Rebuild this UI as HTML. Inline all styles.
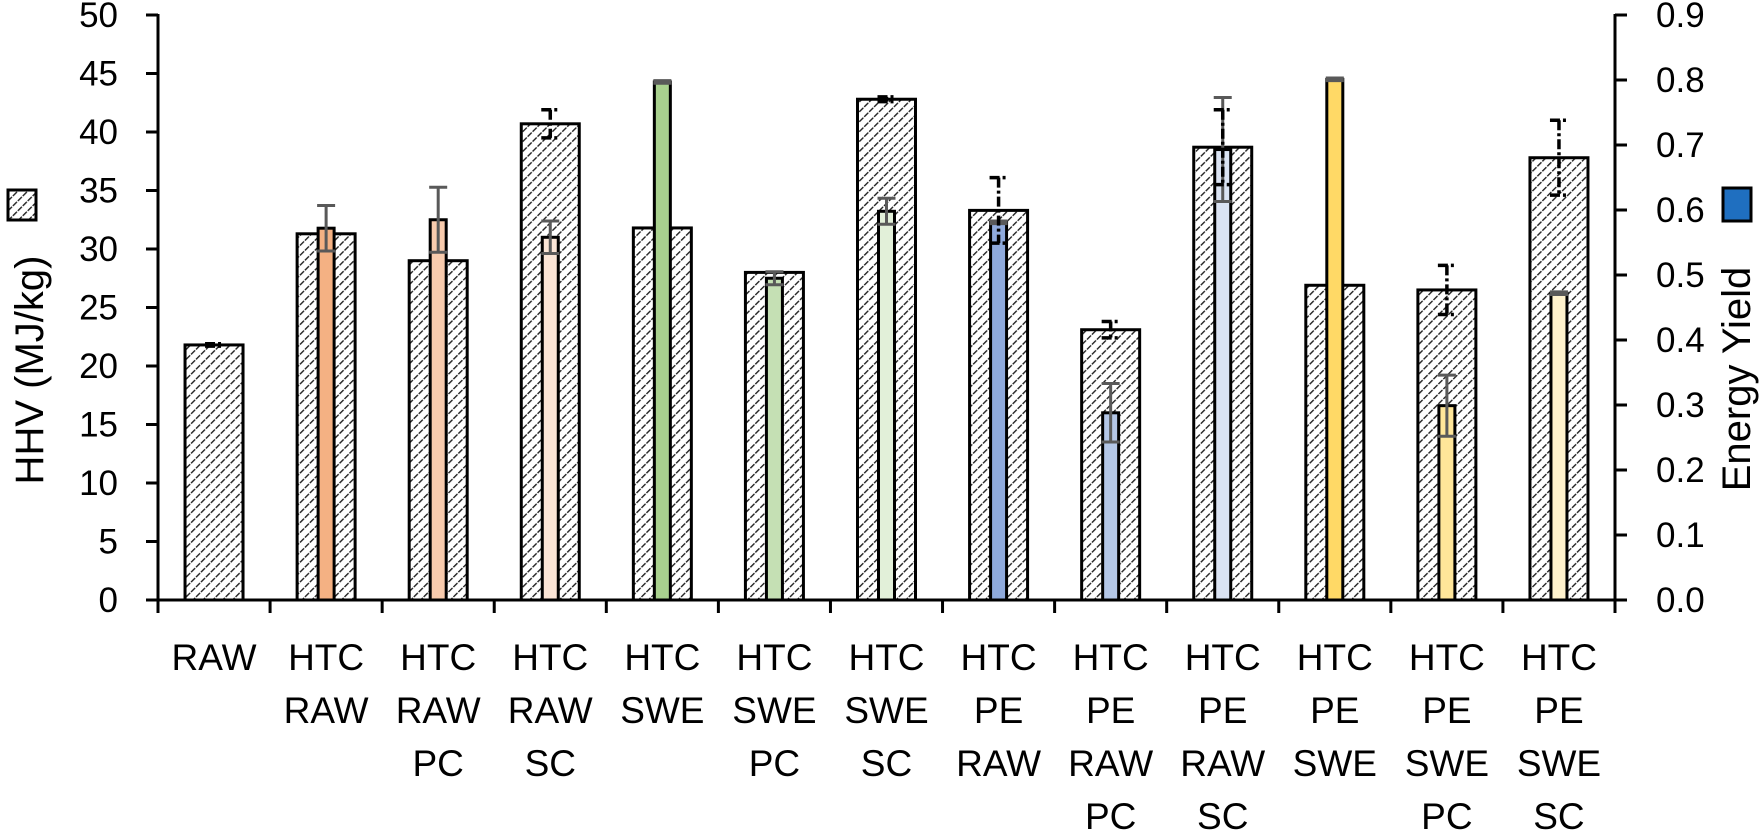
<!DOCTYPE html>
<html><head><meta charset="utf-8"><style>
body{margin:0;background:#fff}
svg{display:block;font-family:"Liberation Sans",sans-serif}
</style></head><body>
<svg id="chart" width="1761" height="831" viewBox="0 0 1761 831" xmlns="http://www.w3.org/2000/svg">
<defs>
<pattern id="hatch" patternUnits="userSpaceOnUse" width="7" height="7" patternTransform="rotate(45)">
<rect width="7" height="7" fill="#fff"/>
<line x1="0" y1="0" x2="0" y2="7" stroke="#222" stroke-width="2.8" stroke-dasharray="3.5 1.2"/>
</pattern>
</defs>
<g id="plot"></g>
<text transform="translate(43,370) rotate(-90)" text-anchor="middle" font-size="40" fill="#000">HHV (MJ/kg)</text>
<rect x="8" y="190" width="28" height="30" fill="url(#hatch)" stroke="#000" stroke-width="3"/>
<text transform="translate(1750,379) rotate(-90)" text-anchor="middle" font-size="40" fill="#000">Energy Yield</text>
<rect x="1723" y="188" width="28" height="33" fill="#1f6fc0" stroke="#000" stroke-width="3"/>
</svg>
<script>
const categories = [["RAW"],["HTC","RAW"],["HTC","RAW","PC"],["HTC","RAW","SC"],["HTC","SWE"],["HTC","SWE","PC"],["HTC","SWE","SC"],["HTC","PE","RAW"],["HTC","PE","RAW","PC"],["HTC","PE","RAW","SC"],["HTC","PE","SWE"],["HTC","PE","SWE","PC"],["HTC","PE","SWE","SC"]];
const hhvValues = [21.8,31.3,29.0,40.7,31.8,28.0,42.8,33.3,23.1,38.7,26.9,26.5,37.8];
const hhvErrors = [0.1,0,0,1.2,0,0,0.2,2.8,0.7,3.2,0,2.1,3.2];
const eyValues = [null,0.572,0.585,0.558,0.797,0.495,0.598,0.581,0.288,0.693,0.801,0.299,0.472];
const eyErrors = [null,0.035,0.05,0.025,0.002,0.01,0.02,0.002,0.045,0.08,0.002,0.047,0.002];
const eyColors = [null,"#f4b183","#f8cbad","#fbe5d6","#a9d18e","#c5e0b4","#e2f0d9","#8faadc","#b4c7e7","#dae3f3","#ffd966","#ffe699","#fff2cc"];
const leftTicks = [0,5,10,15,20,25,30,35,40,45,50];
const rightTicks = ["0.0","0.1","0.2","0.3","0.4","0.5","0.6","0.7","0.8","0.9"];

const NS="http://www.w3.org/2000/svg";
const X0=158, X1=1615, Y0=600, Y1=15;
const cw=(X1-X0)/categories.length;
const yL=v=>Y0-(v/50)*(Y0-Y1);
const yR=v=>Y0-(v/0.9)*(Y0-Y1);
const xC=i=>X0+cw*(i+0.5);
const g=document.getElementById('plot');
function mk(tag,attrs,parent){const e=document.createElementNS(NS,tag);for(const k in attrs)e.setAttribute(k,attrs[k]);(parent||g).appendChild(e);return e;}

hhvValues.forEach((v,i)=>{
  const e=mk('rect',{x:xC(i)-29,y:yL(v),width:58,height:Y0-yL(v),fill:'url(#hatch)',stroke:'#000','stroke-width':3});
  
  
});
eyValues.forEach((v,i)=>{
  if(v==null)return;
  const e=mk('rect',{x:xC(i)-8,y:yR(v),width:16,height:Y0-yR(v),fill:eyColors[i],stroke:'#000','stroke-width':3});
  
  
});
eyValues.forEach((v,i)=>{
  if(v==null)return;
  const t=yR(v+eyErrors[i]), b=yR(v-eyErrors[i]), x=xC(i);
  const e=mk('path',{d:`M${x},${t}V${b}M${x-9},${t}H${x+9}M${x-9},${b}H${x+9}`,stroke:'#595959','stroke-width':3,fill:'none'});
  
  
});
hhvValues.forEach((v,i)=>{
  if(!hhvErrors[i])return;
  const t=yL(v+hhvErrors[i]), b=yL(v-hhvErrors[i]), x=xC(i);
  const e=mk('path',{d:`M${x},${t}V${b}M${x-9},${t}H${x+9}M${x-9},${b}H${x+9}`,stroke:'#000','stroke-width':3.5,fill:'none','stroke-dasharray':'10 3 3 3'});
  
  
});
let a=mk('line',{x1:X0,y1:Y1-1,x2:X0,y2:Y0,stroke:'#000','stroke-width':3});

a=mk('line',{x1:X1,y1:Y1-1,x2:X1,y2:Y0+12,stroke:'#000','stroke-width':3});

a=mk('line',{x1:X0-12,y1:Y0,x2:X1+12,y2:Y0,stroke:'#000','stroke-width':3});

leftTicks.forEach(v=>{
  const y=yL(v);
  mk('line',{x1:X0-12,y1:y,x2:X0,y2:y,stroke:'#000','stroke-width':3});
  const t=mk('text',{x:118,y:y+12,'text-anchor':'end','font-size':35});
  t.textContent=v;
  
  
});
rightTicks.forEach(s=>{
  const y=yR(parseFloat(s));
  mk('line',{x1:X1,y1:y,x2:X1+12,y2:y,stroke:'#000','stroke-width':3});
  const t=mk('text',{x:1656,y:y+12,'font-size':35});
  t.textContent=s;
  
  
});
for(let i=0;i<=categories.length;i++){
  const x=X0+cw*i;
  mk('line',{x1:x,y1:Y0,x2:x,y2:Y0+13,stroke:'#000','stroke-width':3});
}
categories.forEach((lines,i)=>{
  lines.forEach((s,j)=>{
    const t=mk('text',{x:xC(i),y:670+j*53,'text-anchor':'middle','font-size':37});
    t.textContent=s;
    
    
  });
});
</script>
</body></html>
